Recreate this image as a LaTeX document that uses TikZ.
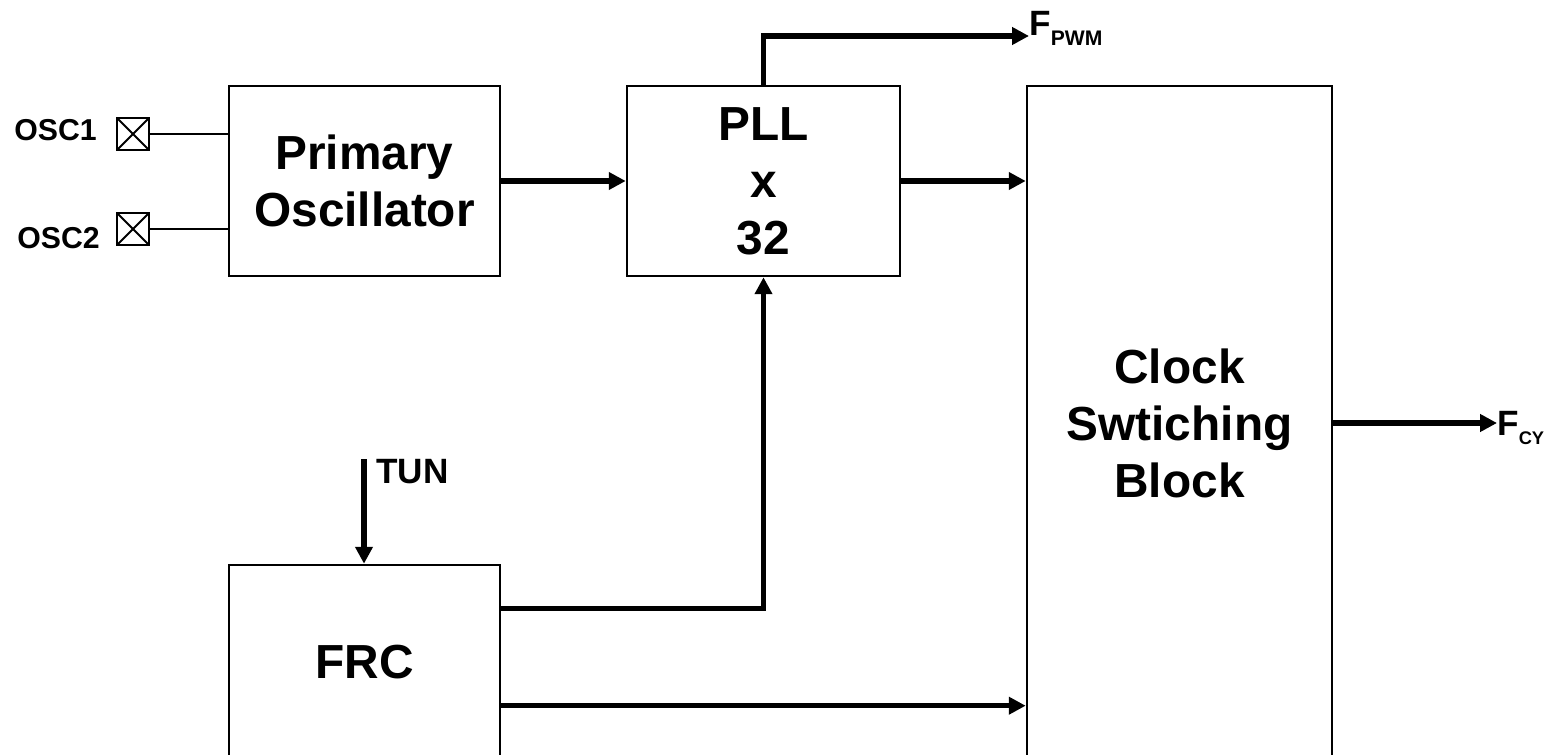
\documentclass[tikz,border=0pt]{standalone}
\usepackage{fontspec}
\setmainfont{Liberation Sans}
\usetikzlibrary{arrows.meta,calc}

\newcommand{\sigsub}[3]{F\raisebox{#3}{\fontsize{#2}{#2}\selectfont #1}}

\tikzset{
  blk/.style={draw, line width=1.8pt, align=center, inner sep=0pt,
    font=\bfseries\fontsize{34}{40.5}\selectfont},
  sig/.style={line width=3.8pt, -{Triangle[length=12pt,width=12pt]}},
  pinbox/.style={draw, line width=2pt, minimum size=0.8cm, inner sep=0pt,
    path picture={
      \draw[line width=1.4pt] (path picture bounding box.south west) -- (path picture bounding box.north east);
      \draw[line width=1.4pt] (path picture bounding box.north west) -- (path picture bounding box.south east);}},
  wire/.style={line width=1.6pt},
  lbl/.style={inner sep=0pt, font=\bfseries\fontsize{21.5}{21.5}\selectfont},
  outlbl/.style={inner sep=0pt, font=\bfseries\fontsize{25}{25}\selectfont}
}

\begin{document}
\begin{tikzpicture}[x=0.025cm, y=-0.025cm]
  \useasboundingbox (0,0) rectangle (1564,755);
  \clip (0,0) rectangle (1564,755);

  % blocks
  \node[blk, minimum width=6.775cm, minimum height=4.75cm] (osc) at (364.5,181) {Primary\\Oscillator};
  \node[blk, minimum width=6.825cm, minimum height=4.75cm] (pll) at (763.5,181) {PLL\\x\\32};
  \node[blk, minimum width=7.625cm, minimum height=16.85cm] (clk) at (1179.5,423) {Clock\\Swtiching\\Block};
  \node[blk, minimum width=6.775cm, minimum height=4.875cm] (frc) at (364.5,662.5) {FRC};

  % oscillator pins
  \node[pinbox] (pin1) at (133,134) {};
  \node[pinbox] (pin2) at (133,229) {};
  \node[lbl, anchor=base east] (osc1) at (97,141) {OSC1};
  \node[lbl, anchor=base east] (osc2) at (100,248) {OSC2};
  \draw[wire] (pin1.east) -- (pin1.east -| osc.west);
  \draw[wire] (pin2.east) -- (pin2.east -| osc.west);

  % outputs and tuning input
  \node[outlbl, anchor=base west] (fpwm) at (1029,36) {\sigsub{PWM}{15}{-7pt}};
  \node[outlbl, anchor=base west] (fcy) at (1497,435) {\sigsub{CY}{13}{-7pt}};
  \node[outlbl, anchor=base west] (tunlbl) at (376,483) {TUN};
  \coordinate (tun) at (364,459);
  \coordinate (frcpll) at ($(frc.north east)+(0,45)$);
  \coordinate (frcclk) at ($(frc.north east)+(0,142)$);

  % connections
  \draw[sig] (osc.east) -- (pll.west);
  \draw[sig] (pll.east) -- (pll.east -| clk.west);
  \draw[sig] (pll.north) |- (fpwm.base west);
  \draw[sig] (clk.east) -- (clk.east -| fcy.west);
  \draw[sig] (tun) -- (tun |- frc.north);
  \draw[sig] (frcpll) -| (pll.south);
  \draw[sig] (frcclk) -- (frcclk -| clk.west);
\end{tikzpicture}
\end{document}
